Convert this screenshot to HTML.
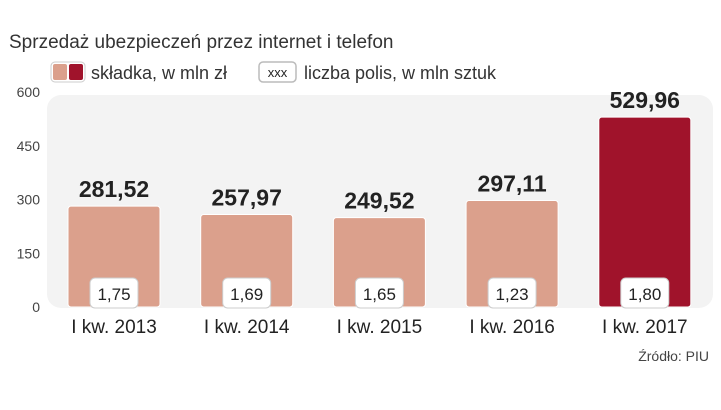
<!DOCTYPE html>
<html><head><meta charset="utf-8"><style>
body{margin:0;width:721px;height:405px;background:#fff;overflow:hidden;font-family:"Liberation Sans",sans-serif}
</style></head><body>
<svg width="721" height="405" xmlns="http://www.w3.org/2000/svg">
<text x="9" y="48" font-size="19" fill="#333">Sprzedaż ubezpieczeń przez internet i telefon</text>
<g>
<rect x="51" y="62" width="34" height="20" rx="4" fill="#fff" stroke="#ccc"/>
<rect x="53" y="64" width="14" height="16" rx="2" fill="#dba08c"/>
<rect x="69" y="64" width="14" height="16" rx="2" fill="#a0132b"/>
<text x="91" y="79" font-size="18" fill="#333">składka, w mln zł</text>
<rect x="259" y="62" width="37" height="20" rx="4" fill="#fff" stroke="#bbb" stroke-width="1.5"/>
<text x="277.5" y="77" font-size="13" fill="#222" text-anchor="middle">xxx</text>
<text x="304" y="79" font-size="18" fill="#333">liczba polis, w mln sztuk</text>
</g>
<rect x="47" y="95" width="666" height="213" rx="14" fill="#f3f3f3"/>
<g id="axis"></g>
<g id="bars"></g>
<text x="709" y="361" font-size="14" fill="#444" text-anchor="end">Źródło: PIU</text>
</svg>
<script>
const categories=["I kw. 2013","I kw. 2014","I kw. 2015","I kw. 2016","I kw. 2017"];
const premiums=[281.52,257.97,249.52,297.11,529.96];
const policies=[1.75,1.69,1.65,1.23,1.80];
const ticks=[0,150,300,450,600];
const NS="http://www.w3.org/2000/svg";
const y0=307,y1=92;
function y(v){return y0-(v/600)*(y0-y1);}
function x(i){return 114+i*132.7;}
function fmt(v,d){return v.toFixed(d).replace('.',',');}
function mk(tag,attrs,parent,text){const e=document.createElementNS(NS,tag);for(const k in attrs)e.setAttribute(k,attrs[k]);if(text!=null)e.textContent=text;parent.appendChild(e);return e;}
const ax=document.getElementById('axis');
ticks.forEach(t=>{const e=mk('text',{x:40,y:y(t)+5,'font-size':14,fill:'#444','text-anchor':'end'},ax,String(t));

});
const g=document.getElementById('bars');
categories.forEach((c,i)=>{
const cx=x(i),w=92,top=y(premiums[i]);
const r=mk('rect',{x:cx-w/2,y:top,width:w,height:y0-top,rx:3,fill:i===4?'#a0132b':'#dba08c',stroke:'#fff','stroke-width':1},g);


const v=mk('text',{x:cx,y:top-9,'font-size':23,'font-weight':'bold',fill:'#222','text-anchor':'middle'},g,fmt(premiums[i],2));


const b=mk('rect',{x:cx-24,y:278,width:48,height:30,rx:5,fill:'#fff',stroke:'#ccc','stroke-width':1},g);


const p=mk('text',{x:cx,y:300,'font-size':17,fill:'#222','text-anchor':'middle'},g,fmt(policies[i],2));


const l=mk('text',{x:cx,y:333,'font-size':19,fill:'#222','text-anchor':'middle'},g,c);


});
</script>
</body></html>
